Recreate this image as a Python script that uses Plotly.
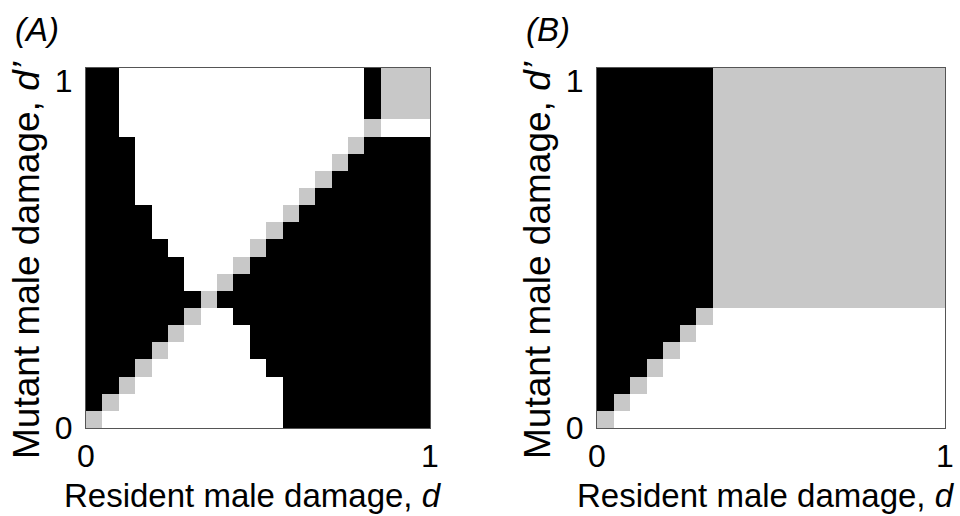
import plotly.graph_objects as go

# Strategy grid: 21 resident values (d) x 21 mutant values (d'), each in [0, 1].
# Row strings go from d' = 1 (top) down to d' = 0 (bottom); one char per d.
# W = mutant cannot invade, G = neutral / boundary, B = mutant invades.
N_STEPS = 21
d_values = [(i + 0.5) / N_STEPS for i in range(N_STEPS)]
d_prime_values = [(j + 0.5) / N_STEPS for j in range(N_STEPS)]

grid_a_rows = [
    "BBWWWWWWWWWWWWWWWBGGG",
    "BBWWWWWWWWWWWWWWWBGGG",
    "BBWWWWWWWWWWWWWWWBGGG",
    "BBWWWWWWWWWWWWWWWGWWW",
    "BBBWWWWWWWWWWWWWGBBBB",
    "BBBWWWWWWWWWWWWGBBBBB",
    "BBBWWWWWWWWWWWGBBBBBB",
    "BBBWWWWWWWWWWGBBBBBBB",
    "BBBBWWWWWWWWGBBBBBBBB",
    "BBBBWWWWWWWGBBBBBBBBB",
    "BBBBBWWWWWGBBBBBBBBBB",
    "BBBBBBWWWGBBBBBBBBBBB",
    "BBBBBBWWGBBBBBBBBBBBB",
    "BBBBBBBGBBBBBBBBBBBBB",
    "BBBBBBGWWBBBBBBBBBBBB",
    "BBBBBGWWWWBBBBBBBBBBB",
    "BBBBGWWWWWBBBBBBBBBBB",
    "BBBGWWWWWWWBBBBBBBBBB",
    "BBGWWWWWWWWWBBBBBBBBB",
    "BGWWWWWWWWWWBBBBBBBBB",
    "GWWWWWWWWWWWBBBBBBBBB",
]

grid_b_rows = [
    "BBBBBBBGGGGGGGGGGGGGG",
    "BBBBBBBGGGGGGGGGGGGGG",
    "BBBBBBBGGGGGGGGGGGGGG",
    "BBBBBBBGGGGGGGGGGGGGG",
    "BBBBBBBGGGGGGGGGGGGGG",
    "BBBBBBBGGGGGGGGGGGGGG",
    "BBBBBBBGGGGGGGGGGGGGG",
    "BBBBBBBGGGGGGGGGGGGGG",
    "BBBBBBBGGGGGGGGGGGGGG",
    "BBBBBBBGGGGGGGGGGGGGG",
    "BBBBBBBGGGGGGGGGGGGGG",
    "BBBBBBBGGGGGGGGGGGGGG",
    "BBBBBBBGGGGGGGGGGGGGG",
    "BBBBBBBGGGGGGGGGGGGGG",
    "BBBBBBGWWWWWWWWWWWWWW",
    "BBBBBGWWWWWWWWWWWWWWW",
    "BBBBGWWWWWWWWWWWWWWWW",
    "BBBGWWWWWWWWWWWWWWWWW",
    "BBGWWWWWWWWWWWWWWWWWW",
    "BGWWWWWWWWWWWWWWWWWWW",
    "GWWWWWWWWWWWWWWWWWWWW",
]

outcome_code = {"W": 0, "G": 1, "B": 2}
x_tick_vals = [0, 1]
y_tick_vals = [0, 0.965]
tick_text = ["0", "1"]
panel_labels = ["(A)", "(B)"]
x_title = "Resident male damage, <i>d</i>"
y_title = "Mutant male damage, <i>d\u2019</i>"


def to_matrix(rows):
    # heatmap z is indexed bottom-up, so reverse the top-down row strings
    return [[outcome_code[c] for c in row] for row in reversed(rows)]


GRAY = "#c8c8c8"
colorscale = [
    [0.0, "white"], [1 / 3, "white"],
    [1 / 3, GRAY], [2 / 3, GRAY],
    [2 / 3, "black"], [1.0, "black"],
]

FONT = "Liberation Sans, Arial, sans-serif"
W, H = 960, 516

fig = go.Figure()
for k, rows in enumerate([grid_a_rows, grid_b_rows]):
    suffix = "" if k == 0 else "2"
    fig.add_trace(go.Heatmap(
        x=d_values, y=d_prime_values, z=to_matrix(rows),
        zmin=0, zmax=2, colorscale=colorscale, showscale=False,
        hoverinfo="skip",
        xaxis="x" + suffix, yaxis="y" + suffix,
    ))

# plot-area placement in pixels
panels = [(86, 430), (597, 945)]
top_px, bottom_px = 68, 428
y_dom = [(H - bottom_px) / H, (H - top_px) / H]

axis_common = dict(
    range=[0, 1], showgrid=False, zeroline=False, automargin=False,
    showline=True, linecolor="#555555", linewidth=1, mirror=True,
    ticks="", tickfont=dict(family=FONT, size=32, color="black"),
    ticktext=tick_text, tickmode="array",
)

layout = dict(
    width=W, height=H,
    margin=dict(l=0, r=0, t=0, b=0, autoexpand=False),
    paper_bgcolor="white", plot_bgcolor="white",
    showlegend=False,
    font=dict(family=FONT, color="black"),
)
for k, (x0, x1) in enumerate(panels):
    suffix = "" if k == 0 else "2"
    layout["xaxis" + suffix] = dict(
        axis_common, domain=[x0 / W, x1 / W], tickvals=x_tick_vals,
        anchor="y" + suffix, ticklabelstandoff=0,
    )
    layout["yaxis" + suffix] = dict(
        axis_common, domain=y_dom, tickvals=y_tick_vals,
        anchor="x" + suffix, ticklabelstandoff=6,
    )
fig.update_layout(**layout)

annotations = []
for k, (x0, x1) in enumerate(panels):
    annotations.append(dict(
        text=x_title, x=((x0 + x1) / 2 - 5) / W, y=(H - 495) / H,
        xref="paper", yref="paper", xanchor="center", yanchor="middle",
        showarrow=False, font=dict(family=FONT, size=33, color="black"),
    ))
    annotations.append(dict(
        text=y_title, x=(x0 - 60) / W, y=(H - 260) / H, textangle=-90,
        xref="paper", yref="paper", xanchor="center", yanchor="middle",
        showarrow=False, font=dict(family=FONT, size=37, color="black"),
    ))
    annotations.append(dict(
        text="<i>" + panel_labels[k] + "</i>", x=(x0 - 49) / W, y=(H - 30) / H,
        xref="paper", yref="paper", xanchor="center", yanchor="middle",
        showarrow=False, font=dict(family=FONT, size=33, color="black"),
    ))
fig.update_layout(annotations=annotations)

fig.write_html("out.html")
